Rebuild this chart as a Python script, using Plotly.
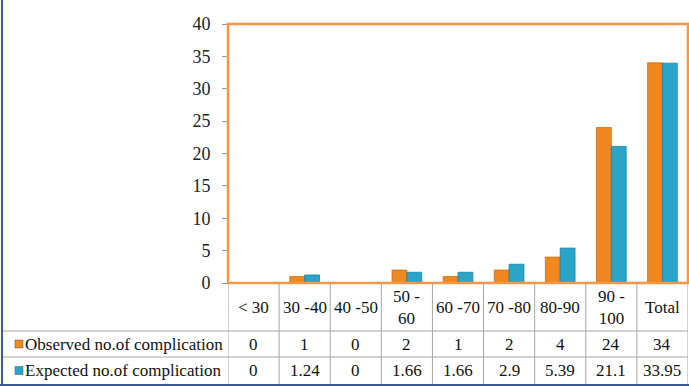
import plotly.graph_objects as go

# Age groups, observed vs expected complications
categories = ["< 30", "30 -40", "40 -50", "50 -<br>60", "60 -70", "70 -80", "80-90", "90 -<br>100", "Total"]
observed = [0, 1, 0, 2, 1, 2, 4, 24, 34]
expected = [0, 1.24, 0, 1.66, 1.66, 2.9, 5.39, 21.1, 33.95]
observed_text = ["0", "1", "0", "2", "1", "2", "4", "24", "34"]
expected_text = ["0", "1.24", "0", "1.66", "1.66", "2.9", "5.39", "21.1", "33.95"]
series_names = ["Observed no.of complication", "Expected no.of complication"]
y_ticks = [0, 5, 10, 15, 20, 25, 30, 35, 40]

W, H = 689, 386
L, R, T, B = 228, 1, 24, 103
PW, PH = W - L - R, H - T - B
ORANGE = "#F0881F"
BLUE = "#2AA5C9"
FRAME = "#F79646"
GRID = "#A6A6A6"
FONT = "Liberation Serif"

xs = list(range(len(categories)))


def px_x(X):
    return (X - L) / PW


def px_y(Y):
    return (H - B - Y) / PH


fig = go.Figure()
fig.add_bar(x=xs, y=observed, name=series_names[0], marker=dict(color=ORANGE, line=dict(color="#C96A12", width=0.8)))
fig.add_bar(x=xs, y=expected, name=series_names[1], marker=dict(color=BLUE, line=dict(color="#1B7FA0", width=0.8)))

shapes = []
ann = []

# plot frame
shapes.append(dict(type="rect", xref="paper", yref="paper", x0=0, x1=1, y0=0, y1=1,
                   line=dict(color=FRAME, width=2.5)))

# data table below the chart
row_y = [283, 331, 357, 384]
n = len(categories)
for i in range(n + 1):
    shapes.append(dict(type="line", xref="x", yref="paper", x0=i - 0.5, x1=i - 0.5,
                       y0=px_y(row_y[0]), y1=px_y(row_y[3]), line=dict(color=GRID, width=1)))
for yy in row_y[1:3]:
    shapes.append(dict(type="line", xref="paper", yref="paper", x0=px_x(2), x1=1,
                       y0=px_y(yy), y1=px_y(yy), line=dict(color=GRID, width=1)))

# outer border lines of the figure
shapes.append(dict(type="line", xref="paper", yref="paper", x0=px_x(2), x1=px_x(2),
                   y0=px_y(0), y1=px_y(386), line=dict(color="#3558A0", width=2)))
shapes.append(dict(type="line", xref="paper", yref="paper", x0=px_x(0), x1=px_x(689),
                   y0=px_y(385), y1=px_y(385), line=dict(color="#3558A0", width=2)))

cell_font = dict(family=FONT, size=17, color="#111")
for i, c in enumerate(categories):
    ann.append(dict(x=i, xref="x", y=px_y((row_y[0] + row_y[1]) / 2), yref="paper",
                    xanchor="center", yanchor="middle",
                    text=c, showarrow=False, font=cell_font))
    ann.append(dict(x=i, xref="x", y=px_y((row_y[1] + row_y[2]) / 2), yref="paper",
                    xanchor="center", yanchor="middle",
                    text=observed_text[i], showarrow=False, font=cell_font))
    ann.append(dict(x=i, xref="x", y=px_y((row_y[2] + row_y[3]) / 2), yref="paper",
                    xanchor="center", yanchor="middle",
                    text=expected_text[i], showarrow=False, font=cell_font))

# row headers with legend keys
for k, (name, col) in enumerate(zip(series_names, [ORANGE, BLUE])):
    yc = (row_y[1 + k] + row_y[2 + k]) / 2
    shapes.append(dict(type="rect", xref="paper", yref="paper", x0=px_x(15), x1=px_x(23),
                       y0=px_y(yc + 4), y1=px_y(yc - 4), fillcolor=col,
                       line=dict(color="#555", width=0.5)))
    ann.append(dict(x=px_x(23), xref="paper", y=px_y(yc), yref="paper", text=name,
                    xanchor="left", yanchor="middle", showarrow=False, font=cell_font))

fig.update_layout(
    width=W, height=H,
    margin=dict(l=L, r=R, t=T, b=B),
    paper_bgcolor="white", plot_bgcolor="white",
    barmode="group", bargap=0.42, bargroupgap=0,
    showlegend=False,
    shapes=shapes, annotations=ann,
    xaxis=dict(range=[-0.5, n - 0.5], showticklabels=False, showgrid=False, zeroline=False,
               ticks=""),
    yaxis=dict(range=[0, 40], tickvals=y_ticks, showgrid=False, zeroline=False,
               ticks="outside", ticklen=5, tickcolor="#999",
               ticklabelstandoff=8,
               tickfont=dict(family=FONT, size=18, color="#222")),
)

fig.write_html("out.html")
